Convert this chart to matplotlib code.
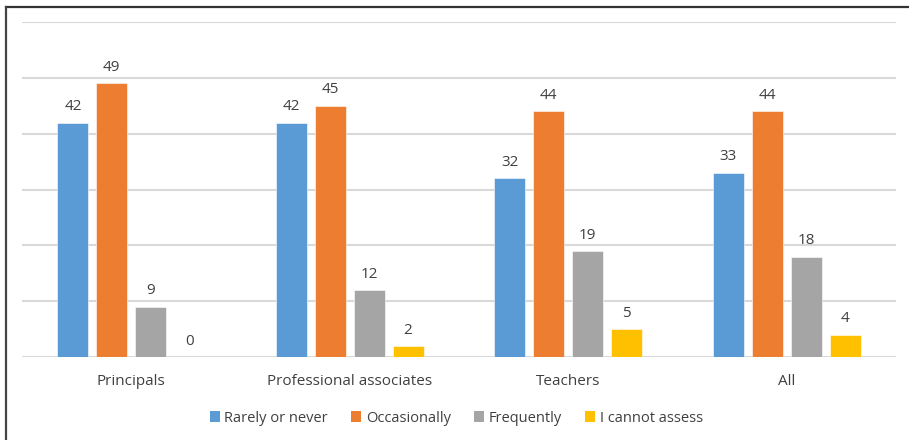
import numpy as np
import matplotlib.pyplot as plt
from matplotlib.patches import Patch
from matplotlib.lines import Line2D

plt.rcParams['font.family'] = ['Open Sans', 'DejaVu Sans']

# data
groups = ['Principals', 'Professional associates', 'Teachers', 'All']
series = ['Rarely or never', 'Occasionally', 'Frequently', 'I cannot assess']
rarely = [42, 42, 32, 33]
occasionally = [49, 45, 44, 44]
frequently = [9, 12, 19, 18]
cannot_assess = [0, 2, 5, 4]
colors = ['#5B9BD5', '#ED7D31', '#A5A5A5', '#FFC000']

values = [rarely, occasionally, frequently, cannot_assess]

fig = plt.figure(figsize=(9.09, 4.40), dpi=100)
ax = fig.add_axes([0.0242, 0.1886, 0.9615, 0.7614])

x = np.arange(len(groups))
width = 0.142
step = 0.178
offsets = (np.arange(len(series)) - 1.5) * step

text_color = '#404040'
for vals, off, col in zip(values, offsets, colors):
    bars = ax.bar(x + off, vals, width, color=col, edgecolor='white', linewidth=0.4, zorder=3)
    for b, v in zip(bars, vals):
        ax.annotate(str(v), (b.get_x() + b.get_width() / 2, v),
                    xytext=(0, 6), textcoords='offset points',
                    ha='center', va='bottom', fontsize=11, color=text_color)

ax.set_xlim(-0.5, len(groups) - 0.5)
ax.set_ylim(0, 60)
ax.set_yticks(np.arange(0, 61, 10))
ax.yaxis.grid(True, color='#D9D9D9', linewidth=1.5, zorder=0)
ax.set_axisbelow(True)
ax.tick_params(axis='y', left=False, labelleft=False)
ax.tick_params(axis='x', bottom=False, pad=9, labelsize=11, labelcolor=text_color)
ax.set_xticks(x)
ax.set_xticklabels(groups)
for s in ax.spines.values():
    s.set_visible(False)

handles = [Patch(facecolor=c, edgecolor='none') for c in colors]
fig.legend(handles, series, loc='center', bbox_to_anchor=(0.502, 0.05), ncol=4,
           frameon=False, fontsize=10.5, labelcolor=text_color,
           handlelength=0.7, handleheight=0.7, handletextpad=0.3,
           columnspacing=1.6)

# frame edges along top and left
fig.add_artist(Line2D([0.0066, 1.0], [0.984, 0.984], transform=fig.transFigure,
                      color='#333333', linewidth=1.6))
fig.add_artist(Line2D([0.0066, 0.0066], [0.0, 0.984], transform=fig.transFigure,
                      color='#444444', linewidth=1.6))

fig.savefig('out.png', dpi=100, facecolor='white')
